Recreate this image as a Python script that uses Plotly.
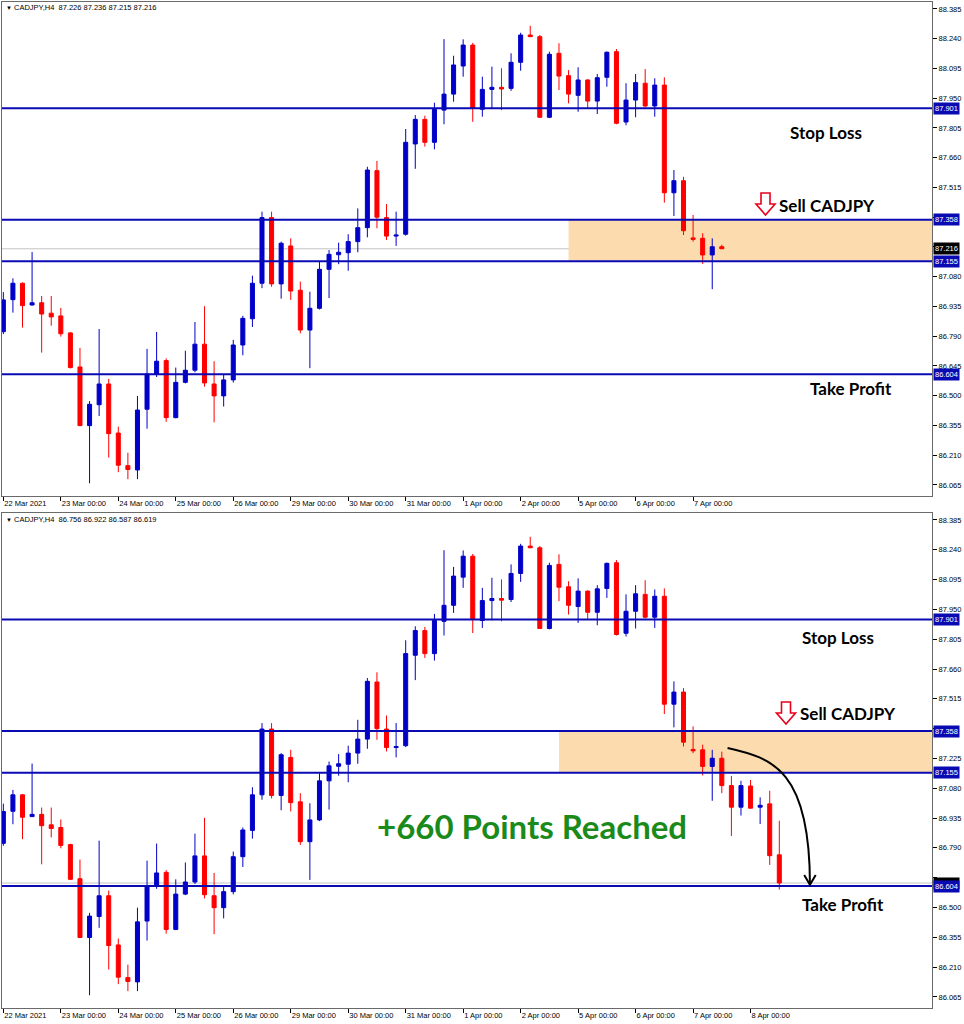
import plotly.graph_objects as go

# ---------------- data (CADJPY H4, bar index 0 = 22 Mar 2021 00:00) ----------------
opens = [86.812, 86.968, 87.048, 86.942, 86.953, 86.902, 86.889, 86.806, 86.640, 86.354,
         86.456, 86.557, 86.318, 86.159, 86.138, 86.434, 86.606, 86.671, 86.393, 86.565,
         86.624, 86.751, 86.557, 86.499, 86.577, 86.747, 86.875, 87.048, 87.368, 87.045,
         87.230, 87.014, 86.820, 86.926, 87.116, 87.187, 87.197, 87.251, 87.319, 87.597,
         87.368, 87.278, 87.287, 87.727, 87.847, 87.735, 87.892, 87.970, 88.107, 88.209,
         87.896, 87.993, 88.003, 87.998, 88.125, 88.258, 88.250, 87.857, 88.169, 88.060,
         87.964, 88.039, 87.936, 88.052, 88.177, 87.834, 87.941, 88.023, 87.912, 88.014,
         87.489, 87.548, 87.269, 87.267, 87.186, 87.226, 87.093, 86.988, 87.091, 86.988,
         87.004, 86.756]
highs = [87.005, 87.072, 87.052, 87.200, 86.986, 86.986, 86.928, 86.810, 86.733, 86.474,
         86.825, 86.582, 86.349, 86.222, 86.499, 86.728, 86.811, 86.682, 86.637, 86.719,
         86.859, 86.936, 86.668, 86.601, 86.772, 86.889, 87.085, 87.397, 87.397, 87.251,
         87.267, 87.056, 87.007, 87.153, 87.210, 87.246, 87.287, 87.413, 87.616, 87.644,
         87.434, 87.397, 87.800, 87.868, 87.865, 87.928, 88.238, 88.157, 88.237, 88.220,
         88.055, 88.104, 88.096, 88.169, 88.269, 88.303, 88.258, 88.177, 88.218, 88.087,
         88.101, 88.042, 88.068, 88.178, 88.190, 88.023, 88.068, 88.092, 88.047, 88.052,
         87.600, 87.567, 87.381, 87.292, 87.267, 87.258, 87.140, 87.116, 87.120, 87.036,
         87.068, 86.922]
lows = [86.800, 86.905, 86.832, 86.940, 86.710, 86.841, 86.788, 86.633, 86.352, 86.073,
        86.401, 86.198, 86.127, 86.093, 86.093, 86.339, 86.591, 86.373, 86.390, 86.560,
        86.614, 86.544, 86.370, 86.447, 86.564, 86.697, 86.835, 87.024, 87.031, 86.973,
        86.967, 86.804, 86.634, 86.920, 86.976, 87.141, 87.109, 87.199, 87.272, 87.316,
        87.259, 87.230, 87.280, 87.606, 87.714, 87.701, 87.823, 87.933, 88.055, 87.835,
        87.860, 87.897, 87.892, 87.986, 88.084, 88.248, 87.855, 87.853, 87.990, 87.925,
        87.884, 87.901, 87.873, 88.006, 87.823, 87.818, 87.857, 87.906, 87.860, 87.441,
        87.376, 87.283, 87.251, 87.142, 87.019, 87.056, 86.848, 86.947, 86.982, 86.906,
        86.707, 86.587]
closes = [86.967, 87.048, 86.939, 86.953, 86.898, 86.884, 86.802, 86.637, 86.354, 86.458,
          86.557, 86.315, 86.161, 86.140, 86.430, 86.606, 86.668, 86.393, 86.565, 86.624,
          86.751, 86.562, 86.499, 86.577, 86.747, 86.877, 87.048, 87.368, 87.045, 87.243,
          87.010, 86.820, 86.926, 87.116, 87.189, 87.199, 87.251, 87.319, 87.600, 87.370,
          87.278, 87.283, 87.735, 87.847, 87.735, 87.896, 87.970, 88.112, 88.209, 87.901,
          87.993, 88.003, 87.995, 88.125, 88.258, 88.250, 87.857, 88.164, 88.058, 87.970,
          88.039, 87.936, 88.050, 88.174, 87.828, 87.941, 88.026, 87.912, 88.014, 87.489,
          87.548, 87.304, 87.262, 87.186, 87.226, 87.093, 86.988, 87.093, 86.983, 86.997,
          86.752, 86.619]

# forming bar shown in the first screenshot (O H L C)
top_last_bar = [87.226, 87.236, 87.215, 87.216]
top_bar_count = 76
bottom_last_bar = [86.756, 86.922, 86.587, 86.619]

top_date_ticks = [0, 6, 12, 18, 24, 30, 36, 42, 48, 54, 60, 66, 72]
bottom_date_ticks = [0, 6, 12, 18, 24, 30, 36, 42, 48, 54, 60, 66, 72, 78]
date_labels = ["22 Mar 2021", "23 Mar 00:00", "24 Mar 00:00", "25 Mar 00:00", "26 Mar 00:00",
               "29 Mar 00:00", "30 Mar 00:00", "31 Mar 00:00", "1 Apr 00:00", "2 Apr 00:00",
               "5 Apr 00:00", "6 Apr 00:00", "7 Apr 00:00", "8 Apr 00:00"]
price_ticks = [86.065, 86.210, 86.355, 86.500, 86.645, 86.790, 86.935, 87.080, 87.225,
               87.370, 87.515, 87.660, 87.805, 87.950, 88.095, 88.240, 88.385]
top_hidden_ticks = [87.225, 87.370]
bottom_hidden_ticks = [87.370, 86.645]

stop_loss = 87.901
entry_high = 87.358
entry_low = 87.155
take_profit = 86.604
top_current = 87.216
bottom_current = 86.619
zone_start_top = 59.0
zone_start_bottom = 58.0

# ---------------- style ----------------
W, H = 964, 1024
BLUE = "#0000c8"
RED = "#ff0000"
LINE = "#0a0ab4"
FRAME = "#6a6a6a"
FONT = "Liberation Sans"
XR = [-0.14, 96.94]
YR = [86.011, 88.419]


def px(x):
    return x / W


def py(y):
    return 1 - y / H


fig = go.Figure()

top_o = opens[:top_bar_count - 1] + [top_last_bar[0]]
top_h = highs[:top_bar_count - 1] + [top_last_bar[1]]
top_l = lows[:top_bar_count - 1] + [top_last_bar[2]]
top_c = closes[:top_bar_count - 1] + [top_last_bar[3]]

for xa, ya, o, h, l, c in [("x", "y", top_o, top_h, top_l, top_c),
                           ("x2", "y2", opens, highs, lows, closes)]:
    fig.add_trace(go.Candlestick(
        x=list(range(len(o))), open=o, high=h, low=l, close=c,
        xaxis=xa, yaxis=ya, whiskerwidth=0, showlegend=False, hoverinfo="skip",
        increasing=dict(line=dict(color=BLUE, width=1), fillcolor=BLUE),
        decreasing=dict(line=dict(color=RED, width=1), fillcolor=RED)))

shapes = []
for xa, ya, zs, cur in [("x", "y", zone_start_top, top_current),
                        ("x2", "y2", zone_start_bottom, bottom_current)]:
    shapes.append(dict(type="rect", xref=xa, yref=ya, x0=zs, x1=200, y0=entry_low, y1=entry_high,
                       fillcolor="#fcdcae", line=dict(width=0), layer="below"))
    shapes.append(dict(type="line", xref=xa + " domain", yref=ya, x0=0, x1=1, y0=cur, y1=cur,
                       line=dict(color="#c4c4c4", width=1), layer="below"))
    for lv in [stop_loss, entry_high, entry_low, take_profit]:
        shapes.append(dict(type="line", xref=xa + " domain", yref=ya, x0=0, x1=1, y0=lv, y1=lv,
                           line=dict(color=LINE, width=2), layer="above"))

# curved arrow from the entry area down to the take-profit level (bottom panel)
cs = (75.6, 87.276)
c1 = (80.3, 87.227)
c2 = (84.2, 87.169)
ce = (84.2, take_profit + 0.006)
shapes.append(dict(type="path", xref="x2", yref="y2",
                   path=f"M {cs[0]},{cs[1]} C {c1[0]},{c1[1]} {c2[0]},{c2[1]} {ce[0]},{ce[1]}",
                   line=dict(color="black", width=2)))
shapes.append(dict(type="path", xref="x2", yref="y2",
                   path=f"M {ce[0]-0.6},{ce[1]+0.048} L {ce[0]},{ce[1]} L {ce[0]+0.6},{ce[1]+0.048}",
                   line=dict(color="black", width=2)))

# outlined "sell" arrows (pixel outline converted to paper coords)
for cx, top in [(765.5, 193), (786, 702)]:
    pts = [(cx - 4.5, top), (cx + 4.5, top), (cx + 4.5, top + 11), (cx + 9.5, top + 11),
           (cx, top + 22), (cx - 9.5, top + 11), (cx - 4.5, top + 11)]
    path = "M " + " L ".join(f"{px(a):.5f},{py(b):.5f}" for a, b in pts) + " Z"
    shapes.append(dict(type="path", xref="paper", yref="paper", path=path,
                       line=dict(color="#e8001c", width=1.6), fillcolor="white"))

ann = []
# header lines
for y, bar in [(7, top_last_bar), (519, bottom_last_bar)]:
    ann.append(dict(xref="paper", yref="paper", x=px(4), y=py(y), xanchor="left", yanchor="middle",
                    text="<span style='font-size:6px'>▼</span>\u00a0CADJPY,H4\u00a0\u00a0"
                         + " ".join(f"{v:.3f}" for v in bar),
                    showarrow=False, font=dict(family=FONT, size=7.5, color="black")))

# price boxes on the right axis
for ya, items in [("y", [(stop_loss, LINE), (entry_high, LINE), (top_current, "black"),
                         (entry_low, LINE), (take_profit, LINE)]),
                  ("y2", [(stop_loss, LINE), (entry_high, LINE), (entry_low, LINE),
                          (bottom_current, "black"), (take_profit, LINE)])]:
    for v, col in items:
        ann.append(dict(xref="paper", yref=ya, x=px(933), y=v, xanchor="left", yanchor="middle",
                        text=f"{v:.3f}", showarrow=False, bgcolor=col, borderpad=1,
                        font=dict(family=FONT, size=7.5, color="white")))

LBL = dict(family="Lato", size=17, color="black")
labels = [("Stop Loss", 825.5, 132), ("Sell CADJPY", 827, 205), ("Take Profit", 851, 388),
          ("Stop Loss", 837.5, 637.5), ("Sell CADJPY", 848, 713.5), ("Take Profit", 843, 904)]
for t, x, y in labels:
    ann.append(dict(xref="paper", yref="paper", x=px(x), y=py(y), xanchor="center", yanchor="middle",
                    text=f"<b>{t}</b>", showarrow=False, font=LBL))
ann.append(dict(xref="paper", yref="paper", x=px(531.5), y=py(826), xanchor="center", yanchor="middle",
                text="<b>+660 Points Reached</b>", showarrow=False,
                font=dict(family="Lato", size=33, color="#1a8a1a")))

axfont = dict(family=FONT, size=7.5, color="black")


def xaxis(ticks):
    return dict(range=XR, showgrid=False, zeroline=False, showline=True, mirror=True,
                linecolor=FRAME, linewidth=1, ticks="outside", ticklen=4, tickcolor="black",
                tickvals=ticks, ticktext=date_labels[:len(ticks)], ticklabelposition="outside right",
                tickfont=axfont, rangeslider=dict(visible=False), fixedrange=True, automargin=False)


def yaxis(hidden):
    return dict(range=YR, showgrid=False, zeroline=False, showline=True, mirror=True,
                linecolor=FRAME, linewidth=1, ticks="outside", ticklen=4, tickcolor="black",
                tickvals=price_ticks,
                ticktext=["" if v in hidden else f"{v:.3f}" for v in price_ticks],
                side="right", tickfont=axfont, fixedrange=True, automargin=False)


fig.update_layout(
    width=W, height=H, margin=dict(l=0, r=0, t=0, b=0, autoexpand=False),
    paper_bgcolor="white", plot_bgcolor="white", boxgap=0.4,
    xaxis=dict(domain=[px(2), px(932)], anchor="y", **xaxis(top_date_ticks)),
    yaxis=dict(domain=[py(496), py(2)], anchor="x", **yaxis(top_hidden_ticks)),
    xaxis2=dict(domain=[px(2), px(932)], anchor="y2", **xaxis(bottom_date_ticks)),
    yaxis2=dict(domain=[py(1008), py(513)], anchor="x2", **yaxis(bottom_hidden_ticks)),
    shapes=shapes, annotations=ann, showlegend=False,
)

fig.write_html("out.html", config={"displayModeBar": False},
               post_script="document.body.style.margin='0';document.body.style.padding='0';")
